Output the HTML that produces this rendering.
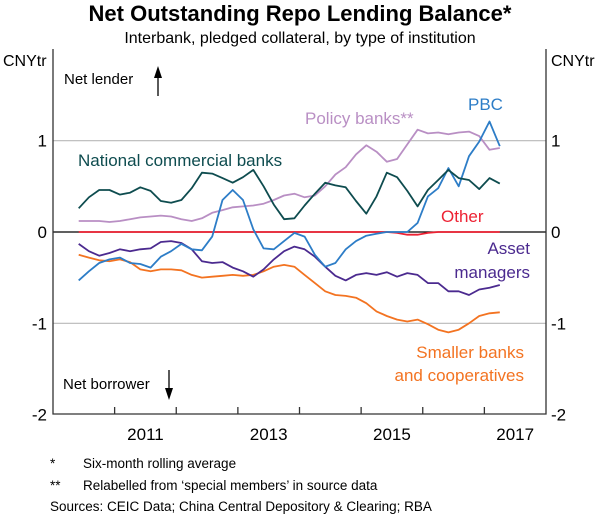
<!DOCTYPE html>
<html><head><meta charset="utf-8"><style>
body{margin:0;background:#fff;}
svg{display:block;font-family:"Liberation Sans",Arial,sans-serif;}
</style></head><body>
<svg id="chart" width="600" height="514" viewBox="0 0 600 514">
<text x="300" y="21" text-anchor="middle" font-size="22" font-weight="bold">Net Outstanding Repo Lending Balance*</text>
<text x="300" y="43" text-anchor="middle" font-size="16">Interbank, pledged collateral, by type of institution</text>
<text x="3" y="66" font-size="16">CNYtr</text>
<text x="551" y="66" font-size="16">CNYtr</text>
<g id="grid"></g>
<g id="series"></g>
<g id="axes"></g>
<text x="64" y="84" font-size="15">Net lender</text>
<g><line x1="158" y1="96" x2="158" y2="76" stroke="#000" stroke-width="1.3"/><polygon points="154,78 162,78 158,66" fill="#000"/></g>
<text x="63" y="389" font-size="15">Net borrower</text>
<g><line x1="169" y1="370" x2="169" y2="390" stroke="#000" stroke-width="1.3"/><polygon points="165,388 173,388 169,400" fill="#000"/></g>
<text x="78" y="166" font-size="17" fill="#0e4c4f">National commercial banks</text>
<text x="305" y="124" font-size="17" fill="#b98fc4">Policy banks**</text>
<text x="468" y="110" font-size="17" fill="#2d7dc7">PBC</text>
<text x="441" y="222" font-size="17" fill="#ed2233">Other</text>
<text font-size="17" fill="#4b2a8f" text-anchor="end"><tspan x="530" y="254">Asset</tspan><tspan x="530" y="278">managers</tspan></text>
<text font-size="17" fill="#f37321" text-anchor="end"><tspan x="524" y="358">Smaller banks</tspan><tspan x="524" y="381">and cooperatives</tspan></text>
<g font-size="13.5">
<text x="50" y="468">*</text><text x="83" y="468">Six-month rolling average</text>
<text x="50" y="490">**</text><text x="83" y="490">Relabelled from ‘special members’ in source data</text>
<text x="50" y="511">Sources: CEIC Data; China Central Depository &amp; Clearing; RBA</text>
</g>
</svg>
<script>
const dates=["2010-06","2010-08","2010-10","2010-12","2011-02","2011-04","2011-06","2011-08","2011-10","2011-12","2012-02","2012-04","2012-06","2012-08","2012-10","2012-12","2013-02","2013-04","2013-06","2013-08","2013-10","2013-12","2014-02","2014-04","2014-06","2014-08","2014-10","2014-12","2015-02","2015-04","2015-06","2015-08","2015-10","2015-12","2016-02","2016-04","2016-06","2016-08","2016-10","2016-12","2017-02","2017-04"];
const ncb=[0.26,0.38,0.46,0.46,0.41,0.43,0.49,0.45,0.34,0.32,0.35,0.48,0.65,0.64,0.59,0.54,0.60,0.68,0.50,0.30,0.14,0.15,0.29,0.42,0.54,0.51,0.49,0.34,0.20,0.39,0.65,0.60,0.45,0.28,0.46,0.57,0.68,0.59,0.57,0.47,0.59,0.53];
const policyBanks=[0.12,0.12,0.12,0.11,0.12,0.14,0.16,0.17,0.18,0.17,0.14,0.12,0.15,0.21,0.24,0.27,0.28,0.29,0.31,0.35,0.40,0.42,0.38,0.40,0.50,0.63,0.71,0.85,0.95,0.88,0.77,0.80,0.96,1.12,1.08,1.09,1.07,1.09,1.10,1.05,0.90,0.92];
const pbc=[-0.53,-0.43,-0.34,-0.30,-0.28,-0.34,-0.35,-0.39,-0.27,-0.21,-0.13,-0.19,-0.20,-0.05,0.35,0.46,0.35,0.03,-0.18,-0.19,-0.10,-0.01,-0.05,-0.25,-0.38,-0.34,-0.19,-0.10,-0.04,-0.02,0.00,0.00,0.00,0.10,0.39,0.48,0.70,0.50,0.83,0.99,1.21,0.94];
const other=[0,0,0,0,0,0,0,0,0,0,0,0,0,0,0,0,0,0,0,0,0,0,0,0,0,0,0,0,0,0,0,-0.01,-0.03,-0.03,-0.01,0,0,0,0,0,0,0];
const assetManagers=[-0.13,-0.21,-0.26,-0.23,-0.19,-0.21,-0.19,-0.18,-0.11,-0.10,-0.12,-0.19,-0.32,-0.34,-0.33,-0.39,-0.43,-0.49,-0.41,-0.30,-0.21,-0.16,-0.19,-0.27,-0.38,-0.48,-0.53,-0.47,-0.45,-0.47,-0.44,-0.49,-0.45,-0.47,-0.56,-0.56,-0.65,-0.65,-0.69,-0.63,-0.61,-0.58];
const smallerBanks=[-0.25,-0.28,-0.31,-0.32,-0.30,-0.33,-0.41,-0.43,-0.41,-0.41,-0.42,-0.47,-0.50,-0.49,-0.48,-0.47,-0.48,-0.47,-0.43,-0.38,-0.36,-0.38,-0.47,-0.56,-0.65,-0.69,-0.70,-0.72,-0.78,-0.87,-0.92,-0.96,-0.98,-0.96,-1.01,-1.07,-1.10,-1.07,-1.00,-0.92,-0.89,-0.88];
const yTicks=[1,0,-1,-2];
const yearLabels=["2011","2013","2015","2017"];

const NS="http://www.w3.org/2000/svg";
const L=53,R=546,T=49,B=414;
function xScale(d){const [y,m]=d.split("-").map(Number);const t=y+(m-1)/12;return L+(t-2010)/8*(R-L);}
function yScale(v){return 232-v*91.3;}
function mk(tag,attrs,parent){const e=document.createElementNS(NS,tag);for(const k in attrs)e.setAttribute(k,attrs[k]);parent.appendChild(e);return e;}
const grid=document.getElementById('grid'),axes=document.getElementById('axes'),series=document.getElementById('series');
yTicks.forEach(v=>{
  const y=yScale(v);
  if(v===1||v===-1){const g=mk('line',{x1:L,x2:R,y1:y,y2:y,stroke:'#b8b8b8','stroke-width':1.2},grid);
    
    }
  const a=mk('text',{x:L-6,y:y+6,'text-anchor':'end','font-size':17},axes);a.textContent=v;
  
  
  const b=mk('text',{x:R+5,y:y+6,'font-size':17},axes);b.textContent=v;
  
  
});
const zl=mk('line',{x1:L,x2:R,y1:yScale(0),y2:yScale(0),stroke:'#000','stroke-width':1.2},grid);


const ax=mk('path',{d:`M${L},${T}V${B}H${R}V${T}`,fill:'none',stroke:'#333','stroke-width':1.3},axes);


for(let yr=2011;yr<=2017;yr++){const x=xScale(yr+"-01");const t=mk('line',{x1:x,x2:x,y1:B,y2:B-7,stroke:'#333','stroke-width':1.3},axes);
  
  }
yearLabels.forEach(lbl=>{const x=(xScale(lbl+"-01")+xScale((+lbl+1)+"-01"))/2;
  const t=mk('text',{x:x,y:440,'text-anchor':'middle','font-size':17},axes);t.textContent=lbl;
  
  });
function line(vals,color,name){
  const d=vals.map((v,i)=>(i?'L':'M')+xScale(dates[i]).toFixed(1)+','+yScale(v).toFixed(1)).join('');
  const p=mk('path',{d:d,fill:'none',stroke:color,'stroke-width':1.8,'stroke-linejoin':'round'},series);
  
  
}
line(policyBanks,'#b98fc4','policy-banks-line');
line(other,'#ed2233','other-line');
line(smallerBanks,'#f37321','smaller-banks-line');
line(assetManagers,'#4b2a8f','asset-managers-line');
line(pbc,'#2d7dc7','pbc-line');
line(ncb,'#0e4c4f','ncb-line');
</script>
</body></html>
